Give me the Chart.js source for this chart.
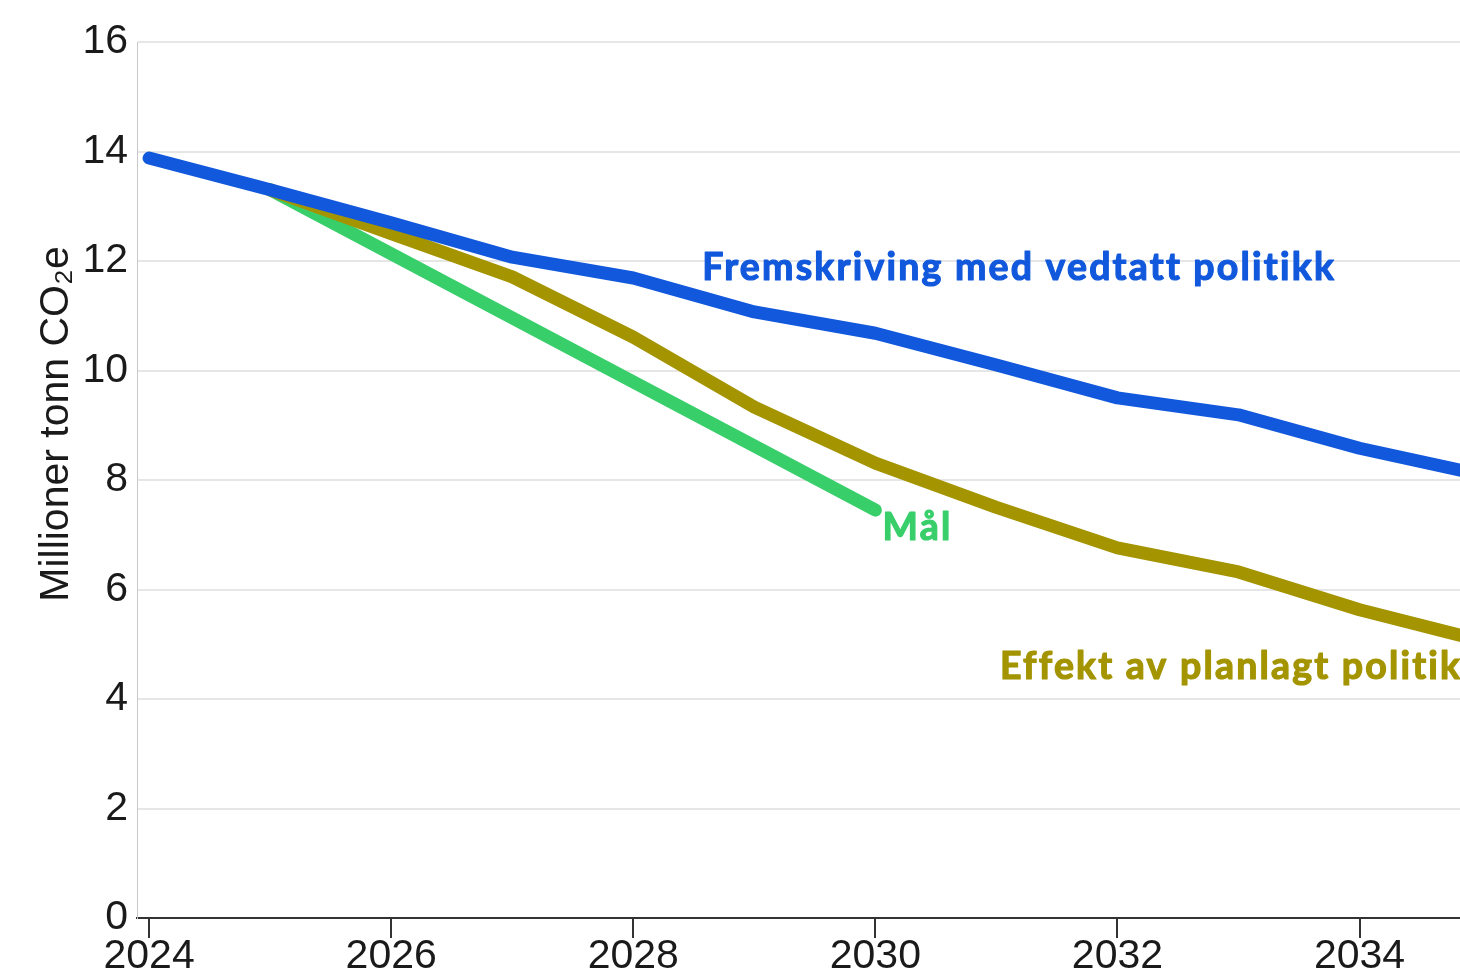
<!DOCTYPE html>
<html><head><meta charset="utf-8">
<script src="https://cdn.jsdelivr.net/npm/chart.js@4.4.1/dist/chart.umd.min.js"></script>
<style>html,body{margin:0;padding:0;background:#fff}#wrap{width:1460px;height:975px}</style>
</head><body><div id="wrap"><canvas id="c" width="1460" height="975"></canvas></div>
<script>
const years = [2024,2025,2026,2027,2028,2029,2030,2031,2032,2033,2034,2035];
const vedtatt = [13.88,13.3,12.7,12.07,11.69,11.07,10.68,10.1,9.5,9.19,8.58,8.1];
const planlagtYears = [2025,2026,2027,2028,2029,2030,2031,2032,2033,2034,2035];
const planlagt = [13.3,12.5,11.71,10.61,9.33,8.31,7.5,6.76,6.32,5.63,5.07];
const malYears = [2025,2030];
const mal = [13.3,7.45];
const xTicks = [2024,2026,2028,2030,2032,2034];
const yTicks = [0,2,4,6,8,10,12,14,16];
const seriesNames = ['Fremskriving med vedtatt politikk','Effekt av planlagt politikk','Mål'];
const yTitle = 'Millioner tonn CO₂e';

const BLUE='#1158dc', OLIVE='#a39400', GREEN='#38cf6b';

const labelPlugin = {
  id:'lineLabels',
  afterDatasetsDraw(chart){
    const {ctx, scales:{x,y}} = chart;
    const items = [
      {t:seriesNames[0], c:BLUE, x:2028.57, y:11.87},
      {t:seriesNames[2], c:GREEN, x:2030.06, y:7.12},
      {t:seriesNames[1], c:OLIVE, x:2031.03, y:4.58}
    ];
    ctx.save();
    ctx.font = 'bold 37.5px Lato';
    try { ctx.letterSpacing = '2.2px'; } catch(e) {}
    ctx.textBaseline = 'middle';
    ctx.textAlign = 'left';
    ctx.lineWidth = 1.2;
    ctx.lineJoin = 'round';
    items.forEach(it=>{
      const px = x.getPixelForValue(it.x), py = y.getPixelForValue(it.y);
      ctx.fillStyle=it.c; ctx.strokeStyle=it.c;
      ctx.fillText(it.t, px, py); ctx.strokeText(it.t, px, py);
    });
    ctx.restore();
    // y axis title
    ctx.save();
    ctx.translate(68, 424);
    ctx.rotate(-Math.PI/2);
    ctx.font = '41px "Liberation Sans", Arial, sans-serif';
    ctx.fillStyle = '#1a1a1a';
    ctx.textAlign = 'center';
    ctx.textBaseline = 'alphabetic';
    ctx.fillText(yTitle, 0, 0);
    ctx.restore();
  }
};

const ds = (name, xs, vals, color) => ({
  label:name, data: xs.map((v,i)=>({x:v,y:vals[i]})), borderColor:color, backgroundColor:color,
  borderWidth:13, pointRadius:0, borderCapStyle:'round', borderJoinStyle:'round', tension:0, fill:false
});

const TICKFONT = {family:'"Liberation Sans", Arial, sans-serif', size:41};

new Chart(document.getElementById('c'), {
  type:'line',
  data:{datasets:[
    ds(seriesNames[0], years, vedtatt, BLUE),
    ds(seriesNames[1], planlagtYears, planlagt, OLIVE),
    ds(seriesNames[2], malYears, mal, GREEN)
  ]},
  options:{
    responsive:false, animation:false, devicePixelRatio:1,
    layout:{padding:{top:42,right:0,left:0,bottom:0}},
    plugins:{legend:{display:false}, tooltip:{enabled:false}},
    scales:{
      x:{type:'linear', min:2023.9, max:2034.83,
        afterBuildTicks(s){ s.ticks = xTicks.map(v=>({value:v})); },
        afterFit(s){ s.height = 57; },
        grid:{drawOnChartArea:false, drawTicks:true, tickLength:20, color:'#333', lineWidth:2},
        border:{color:'#333', width:2},
        ticks:{color:'#1a1a1a', font:TICKFONT, padding:-6, maxRotation:0, autoSkip:false,
          callback:v=>String(v)}
      },
      y:{min:0, max:16,
        afterBuildTicks(s){ s.ticks = yTicks.map(v=>({value:v})); },
        afterFit(s){ s.width = 137; },
        grid:{color:'#e6e6e6', lineWidth:2, drawTicks:false},
        border:{color:'#c8c8c8', width:1},
        ticks:{color:'#1a1a1a', font:TICKFONT, padding:9},
        title:{display:false}
      }
    }
  },
  plugins:[labelPlugin]
});
</script></body></html>
